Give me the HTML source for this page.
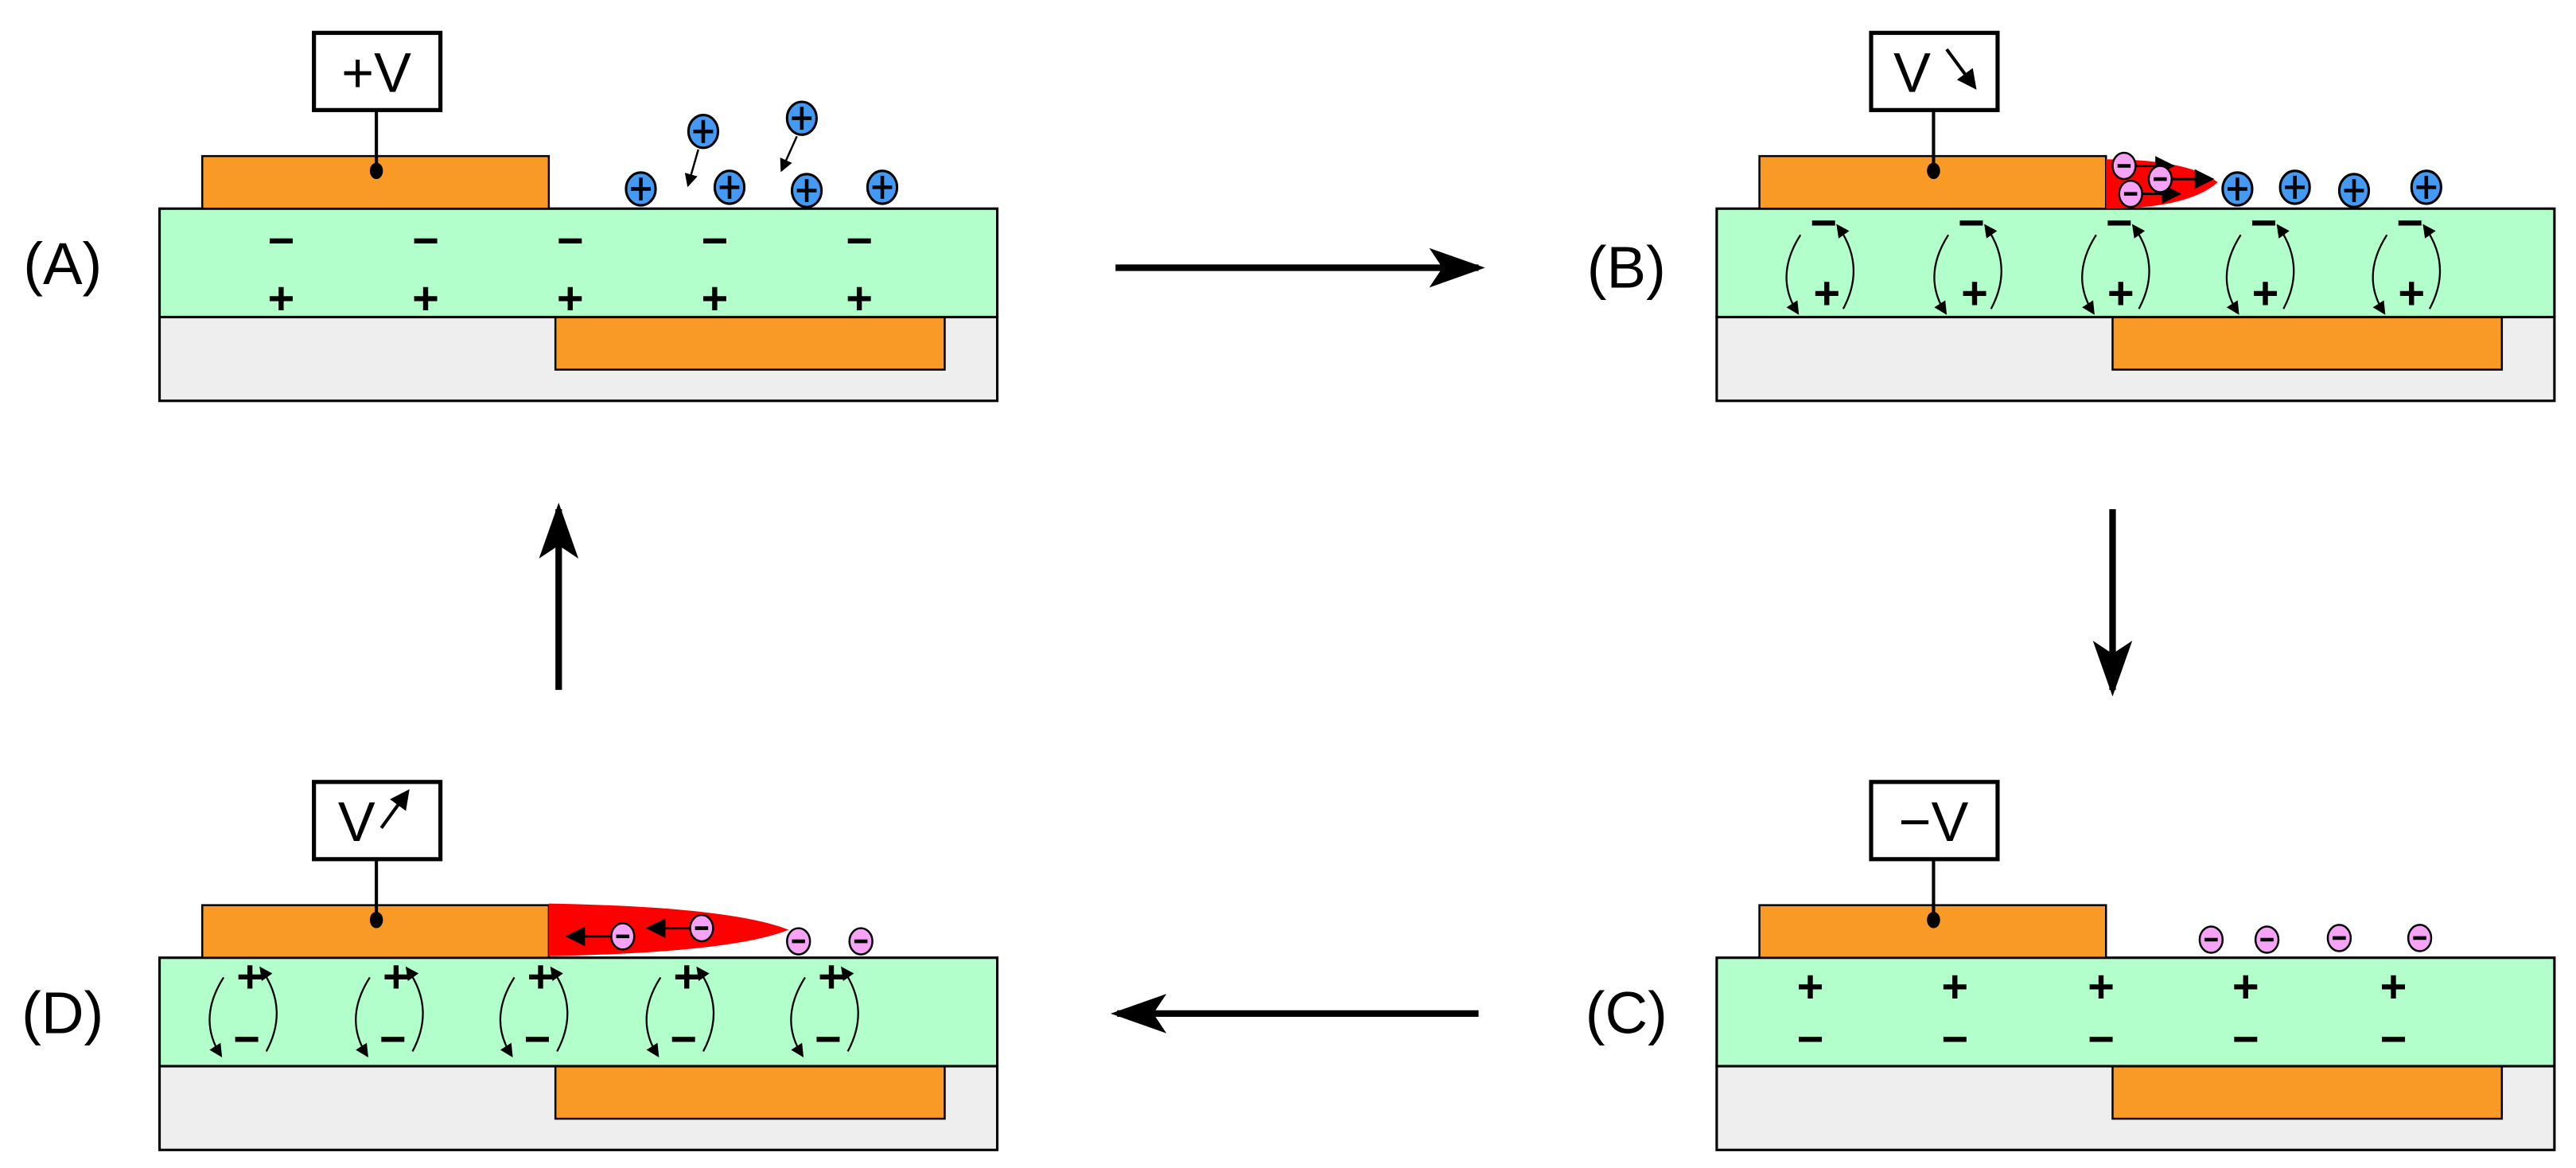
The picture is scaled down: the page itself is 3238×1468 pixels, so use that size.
<!DOCTYPE html>
<html><head><meta charset="utf-8"><style>html,body{margin:0;padding:0;background:#fff}svg{display:block}</style></head><body>
<svg width="3238" height="1468" viewBox="0 0 1568 711" xmlns="http://www.w3.org/2000/svg" font-family="Liberation Sans, sans-serif">
<defs>
<marker id="ah" markerWidth="8" markerHeight="8" refX="6" refY="4" orient="auto" markerUnits="userSpaceOnUse"><path d="M0,0 L8,4 L0,8 Z" fill="#000"/></marker>
<marker id="big" markerWidth="34" markerHeight="24" refX="30" refY="12" orient="auto" markerUnits="userSpaceOnUse"><path d="M0,0 L34,12 L0,24 L8,12 Z" fill="#000"/></marker>
<marker id="mid" markerWidth="12" markerHeight="12" refX="10" refY="6" orient="auto" markerUnits="userSpaceOnUse"><path d="M0,0 L12,6 L0,12 Z" fill="#000"/></marker>
<g id="base">
<rect x="97" y="193" width="510" height="51" fill="#eeeeee" stroke="#000" stroke-width="1.5"/>
<rect x="338" y="193" width="237" height="32" fill="#fa9a26" stroke="#000" stroke-width="1.2"/>
<rect x="97" y="127" width="510" height="66" fill="#b3ffcc" stroke="#000" stroke-width="1.5"/>
<rect x="123" y="95" width="211" height="32" fill="#fa9a26" stroke="#000" stroke-width="1.2"/>
<rect x="191" y="20" width="77" height="47" fill="#fff" stroke="#000" stroke-width="2.5"/>
<line x1="229" y1="67" x2="229" y2="104" stroke="#000" stroke-width="2"/>
<ellipse cx="229" cy="104" rx="4" ry="5" fill="#000"/>
</g>
<g id="arcs" fill="none" stroke="#000" stroke-width="1.1">
<path d="M-14,143 Q-30,168 -16,190" marker-end="url(#ah)"/>
<path d="M12,188 Q26,162 9,138" marker-end="url(#ah)"/>
</g>
<g id="blue"><ellipse cx="0" cy="0" rx="9" ry="10" fill="#4499f2" stroke="#000" stroke-width="1.5"/><path d="M-6,0 H6 M0,-7 V7" stroke="#000" stroke-width="2.2"/></g>
<g id="pink"><ellipse cx="0" cy="0" rx="7" ry="8" fill="#f7a3f5" stroke="#000" stroke-width="1.2"/><path d="M-4,0 H4" stroke="#000" stroke-width="2.2"/></g>
</defs>

<!-- Panel A -->
<use href="#base"/>
<text x="229" y="56" font-size="34" text-anchor="middle">+V</text>
<g font-size="28" font-weight="bold" text-anchor="middle">
<text x="171" y="156">−</text><text x="259" y="156">−</text><text x="347" y="156">−</text><text x="435" y="156">−</text><text x="523" y="156">−</text>
<text x="171" y="191">+</text><text x="259" y="191">+</text><text x="347" y="191">+</text><text x="435" y="191">+</text><text x="523" y="191">+</text>
</g>
<use href="#blue" x="390" y="115"/><use href="#blue" x="444" y="114"/><use href="#blue" x="491" y="116"/><use href="#blue" x="537" y="114"/>
<use href="#blue" x="428" y="80"/><use href="#blue" x="488" y="72"/>
<line x1="425" y1="91" x2="419" y2="112" stroke="#000" stroke-width="1.2" marker-end="url(#ah)"/>
<line x1="485" y1="83" x2="476" y2="103" stroke="#000" stroke-width="1.2" marker-end="url(#ah)"/>
<text x="38" y="173" font-size="36" text-anchor="middle">(A)</text>

<!-- Panel B -->
<use href="#base" x="948"/>
<text x="1164" y="56" font-size="34" text-anchor="middle">V</text>
<line x1="1185" y1="30" x2="1202" y2="53" stroke="#000" stroke-width="2" marker-end="url(#mid)"/>
<path d="M1282,97 Q1332,97 1350,111 Q1332,127 1282,127 Z" fill="#ff0000"/>
<g stroke="#000" stroke-width="1.5">
<line x1="1293" y1="101" x2="1322" y2="101" marker-end="url(#mid)"/>
<line x1="1315" y1="109" x2="1346" y2="109" marker-end="url(#mid)"/>
<line x1="1297" y1="118" x2="1326" y2="118" marker-end="url(#mid)"/>
</g>
<use href="#pink" x="1293" y="101"/><use href="#pink" x="1315" y="109"/><use href="#pink" x="1297" y="118"/>
<use href="#blue" x="1362" y="115"/><use href="#blue" x="1397" y="114"/><use href="#blue" x="1433" y="116"/><use href="#blue" x="1477" y="114"/>
<g font-size="28" font-weight="bold" text-anchor="middle">
<text x="1110" y="145">−</text><text x="1200" y="145">−</text><text x="1290" y="145">−</text><text x="1378" y="145">−</text><text x="1467" y="145">−</text>
<text x="1112" y="188">+</text><text x="1202" y="188">+</text><text x="1291" y="188">+</text><text x="1379" y="188">+</text><text x="1468" y="188">+</text>
</g>
<use href="#arcs" x="1110"/><use href="#arcs" x="1200"/><use href="#arcs" x="1290"/><use href="#arcs" x="1378"/><use href="#arcs" x="1467"/>
<text x="990" y="175" font-size="36" text-anchor="middle">(B)</text>

<!-- Panel C -->
<use href="#base" x="948" y="456"/>
<text x="1177" y="512" font-size="34" text-anchor="middle">−V</text>
<use href="#pink" x="1346" y="572"/><use href="#pink" x="1380" y="572"/><use href="#pink" x="1424" y="571"/><use href="#pink" x="1473" y="571"/>
<g font-size="28" font-weight="bold" text-anchor="middle">
<text x="1102" y="610">+</text><text x="1190" y="610">+</text><text x="1279" y="610">+</text><text x="1367" y="610">+</text><text x="1457" y="610">+</text>
<text x="1102" y="642">−</text><text x="1190" y="642">−</text><text x="1279" y="642">−</text><text x="1367" y="642">−</text><text x="1457" y="642">−</text>
</g>
<text x="990" y="629" font-size="36" text-anchor="middle">(C)</text>

<!-- Panel D -->
<use href="#base" y="456"/>
<text x="217" y="512" font-size="34" text-anchor="middle">V</text>
<line x1="232" y1="504" x2="248" y2="482" stroke="#000" stroke-width="2" marker-end="url(#mid)"/>
<path d="M334,550 Q445,552 480,566 Q445,580 334,582 Z" fill="#ff0000"/>
<g stroke="#000" stroke-width="1.5">
<line x1="372" y1="570" x2="346" y2="570" marker-end="url(#mid)"/>
<line x1="420" y1="565" x2="395" y2="565" marker-end="url(#mid)"/>
</g>
<use href="#pink" x="379" y="570"/><use href="#pink" x="427" y="565"/><use href="#pink" x="486" y="573"/><use href="#pink" x="524" y="573"/>
<g font-size="28" font-weight="bold" text-anchor="middle">
<text x="152" y="604">+</text><text x="241" y="604">+</text><text x="329" y="604">+</text><text x="418" y="604">+</text><text x="506" y="604">+</text>
<text x="150" y="642">−</text><text x="239" y="642">−</text><text x="327" y="642">−</text><text x="416" y="642">−</text><text x="504" y="642">−</text>
</g>
<use href="#arcs" x="150" y="452"/><use href="#arcs" x="239" y="452"/><use href="#arcs" x="327" y="452"/><use href="#arcs" x="416" y="452"/><use href="#arcs" x="504" y="452"/>
<text x="38" y="629" font-size="36" text-anchor="middle">(D)</text>

<!-- cycle arrows -->
<g stroke="#000" stroke-width="4" fill="none">
<line x1="679" y1="163" x2="900" y2="163" marker-end="url(#big)"/>
<line x1="1286" y1="310" x2="1286" y2="420" marker-end="url(#big)"/>
<line x1="900" y1="617" x2="680" y2="617" marker-end="url(#big)"/>
<line x1="340" y1="420" x2="340" y2="310" marker-end="url(#big)"/>
</g>
</svg>
</body></html>
